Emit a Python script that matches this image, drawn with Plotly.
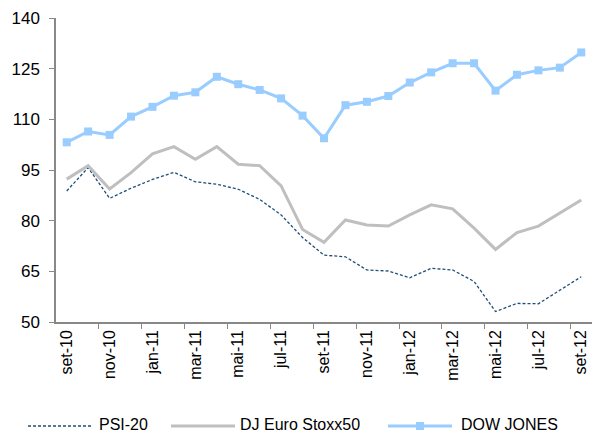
import plotly.graph_objects as go

# monthly index levels, set-10 .. set-12
months = ['set-10', 'out-10', 'nov-10', 'dez-10', 'jan-11', 'fev-11', 'mar-11', 'abr-11',
          'mai-11', 'jun-11', 'jul-11', 'ago-11', 'set-11', 'out-11', 'nov-11', 'dez-11',
          'jan-12', 'fev-12', 'mar-12', 'abr-12', 'mai-12', 'jun-12', 'jul-12', 'ago-12',
          'set-12']

psi20 = [88.8, 95.7, 86.6, 89.6, 92.2, 94.3, 91.5, 90.8, 89.3, 86.3, 81.7, 75.0, 69.8,
         69.3, 65.4, 65.1, 63.1, 65.9, 65.4, 62.0, 53.1, 55.5, 55.4, 59.3, 63.4]

stoxx50 = [92.3, 96.3, 89.4, 94.2, 99.8, 101.9, 98.2, 101.9, 96.7, 96.3, 90.3, 77.4, 73.6,
           80.2, 78.7, 78.4, 81.7, 84.7, 83.5, 77.8, 71.5, 76.5, 78.4, 82.3, 86.1]

dow_jones = [103.2, 106.4, 105.4, 110.8, 113.7, 117.0, 118.0, 122.6, 120.4, 118.7, 116.2,
             111.1, 104.4, 114.2, 115.2, 116.9, 120.9, 123.9, 126.6, 126.6, 118.5, 123.2,
             124.5, 125.3, 129.8]

y_ticks = [50, 65, 80, 95, 110, 125, 140]

x = list(range(len(months)))

c_psi = '#1f4e79'
c_stoxx = '#bfbfbf'
c_dow = '#99ccff'

fig = go.Figure()

fig.add_trace(
    go.Scatter(
        name='PSI-20',
        x=x,
        y=psi20,
        mode='lines',
        line=dict(color=c_psi, width=1.3, dash='3px,2px')
    )
)

fig.add_trace(
    go.Scatter(
        name='DJ Euro Stoxx50',
        x=x,
        y=stoxx50,
        mode='lines',
        line=dict(color=c_stoxx, width=3)
    )
)

fig.add_trace(
    go.Scatter(
        name='DOW JONES',
        x=x,
        y=dow_jones,
        mode='lines+markers',
        line=dict(color=c_dow, width=3),
        marker=dict(symbol='square', size=8, color=c_dow)
    )
)

# legend drawn by hand (excel-style long symbols), positions in pixels
L, PW = 56, 536
T, PH = 18, 304


def px(v):
    return (v - L) / PW


def py(v):
    return (T + PH - v) / PH


line_y = 426
text_y = 424
legend_items = [
    (28, 91, 98, 'PSI-20', dict(color=c_psi, width=1.3, dash='3px,2px'), False),
    (171, 235, 239, 'DJ Euro Stoxx50', dict(color=c_stoxx, width=3), False),
    (388, 452, 460, 'DOW JONES', dict(color=c_dow, width=3), True),
]

for x0, x1, xt, label, line_style, square in legend_items:
    fig.add_shape(
        type='line', xref='paper', yref='paper',
        x0=px(x0), x1=px(x1), y0=py(line_y), y1=py(line_y),
        line=line_style
    )
    if square:
        xm = (x0 + x1) / 2
        fig.add_shape(
            type='rect', xref='paper', yref='paper',
            x0=px(xm - 4), x1=px(xm + 4), y0=py(line_y - 4), y1=py(line_y + 4),
            fillcolor=c_dow, line=dict(width=0)
        )
    fig.add_annotation(
        text=label, xref='paper', yref='paper',
        x=px(xt), y=py(text_y), xanchor='left', yanchor='middle',
        showarrow=False, borderpad=0, font=dict(size=16, color='#000000')
    )

fig.update_layout(
    width=592,
    height=434,
    plot_bgcolor='#ffffff',
    paper_bgcolor='#ffffff',
    font=dict(family='Liberation Sans, Arial, sans-serif', size=14, color='#000000'),
    margin=dict(l=L, r=592 - L - PW, t=T, b=434 - T - PH),
    showlegend=False
)

fig.update_xaxes(
    automargin=False,
    range=[-0.5, 24.5],
    tickmode='array',
    tickvals=x[::2],
    ticktext=months[::2],
    tickangle=-90,
    ticks='',
    showline=True,
    linecolor='#888888',
    linewidth=1.5,
    showgrid=False,
    zeroline=False,
    tickfont=dict(size=16),
    minor=dict(
        tickmode='array',
        tickvals=[i + 0.5 for i in range(1, 24, 2)],
        ticks='outside',
        ticklen=5,
        tickcolor='#888888',
        showgrid=False
    )
)

fig.update_yaxes(
    automargin=False,
    range=[50, 140],
    tickmode='array',
    tickvals=y_ticks,
    ticks='outside',
    ticklen=5,
    tickcolor='#888888',
    showline=True,
    linecolor='#888888',
    linewidth=1.5,
    showgrid=False,
    zeroline=False,
    ticklabelstandoff=6,
    tickfont=dict(size=17)
)

# page body has a default 8px margin, drop it so the chart sits at 0,0
fig.write_html(
    'out.html',
    config={'displayModeBar': False},
    post_script="document.body.style.margin='0';"
)
